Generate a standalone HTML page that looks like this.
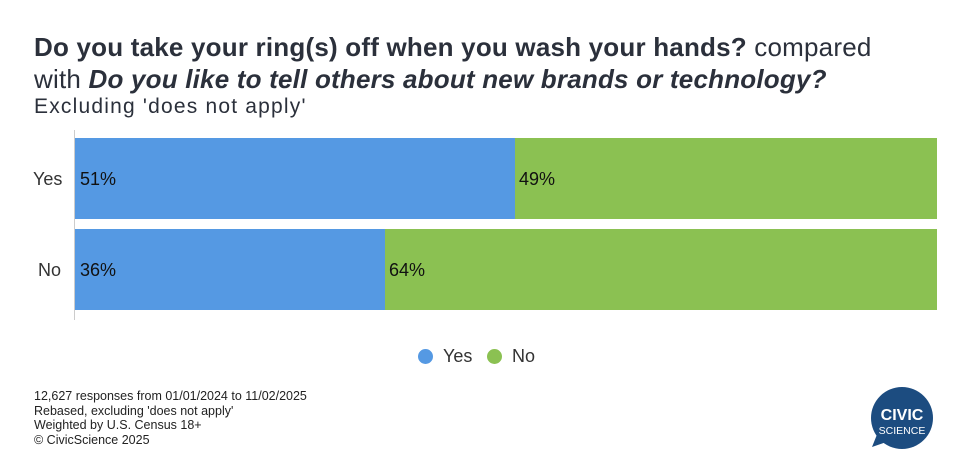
<!DOCTYPE html><html><head><style>
body{margin:0;width:966px;height:464px;background:#fff;font-family:"Liberation Sans",Arial,sans-serif;color:#2b303b;position:relative;overflow:hidden}
.a{position:absolute;white-space:nowrap}
</style></head><body>
<div class="a" style="left:34px;top:31px;font-size:26px;line-height:32px;letter-spacing:0.2px"><b>Do you take your ring(s) off when you wash your hands?</b> compared<br>with <b><i>Do you like to tell others about new brands or technology?</i></b></div>
<div class="a" style="left:34px;top:95px;font-size:21px;letter-spacing:1.2px">Excluding 'does not apply'</div>
<div class="a" style="left:74px;top:130px;width:1px;height:190px;background:#ccc"></div>
<div class="a" style="left:75px;top:138px;width:440px;height:81px;background:#5599e3"></div>
<div class="a" style="left:515px;top:138px;width:422px;height:81px;background:#8bc152"></div>
<div class="a" style="left:75px;top:229px;width:310px;height:81px;background:#5599e3"></div>
<div class="a" style="left:385px;top:229px;width:552px;height:81px;background:#8bc152"></div>
<div class="a" style="left:33px;top:169px;font-size:18px;color:#333">Yes</div>
<div class="a" style="left:38px;top:260px;font-size:18px;color:#333">No</div>
<div class="a" style="left:80px;top:169px;font-size:18px;color:#111">51%</div>
<div class="a" style="left:519px;top:169px;font-size:18px;color:#111">49%</div>
<div class="a" style="left:80px;top:260px;font-size:18px;color:#111">36%</div>
<div class="a" style="left:389px;top:260px;font-size:18px;color:#111">64%</div>
<div class="a" style="left:418px;top:349px;width:15px;height:15px;border-radius:50%;background:#5599e3"></div>
<div class="a" style="left:443px;top:346px;font-size:18px;color:#333">Yes</div>
<div class="a" style="left:487px;top:349px;width:15px;height:15px;border-radius:50%;background:#8bc152"></div>
<div class="a" style="left:512px;top:346px;font-size:18px;color:#333">No</div>
<div class="a" style="left:34px;top:389px;font-size:12.5px;line-height:14.5px;color:#222">12,627 responses from 01/01/2024 to 11/02/2025<br>Rebased, excluding 'does not apply'<br>Weighted by U.S. Census 18+<br>© CivicScience 2025</div>
<svg class="a" style="left:860px;top:380px" width="90" height="80"><circle cx="42" cy="38" r="31" fill="#1c4c80"/><path d="M18 52 L12 67 L32 60Z" fill="#1c4c80"/><text x="42" y="40" text-anchor="middle" font-family="Liberation Sans" font-weight="bold" font-size="16" fill="#fff">CIVIC</text><text x="42" y="54" text-anchor="middle" font-family="Liberation Sans" font-size="10.5" fill="#fff">SCIENCE</text></svg>
</body></html>
